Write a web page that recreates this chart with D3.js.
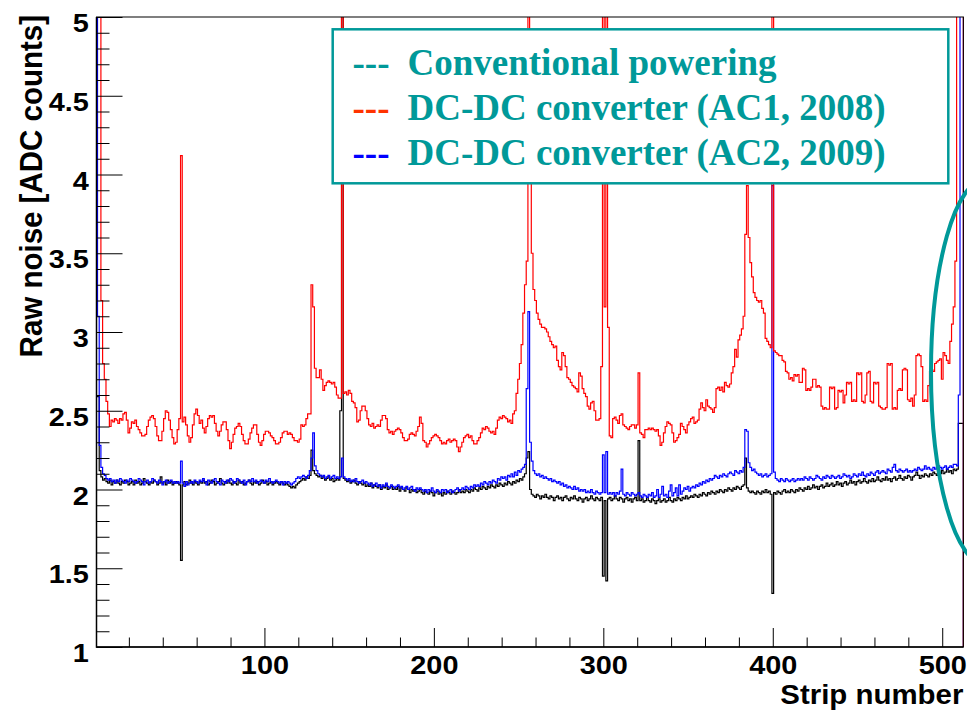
<!DOCTYPE html>
<html>
<head>
<meta charset="utf-8">
<script src="https://cdn.jsdelivr.net/npm/d3@7"></script>
<style>
  html, body { margin: 0; padding: 0; background: #fff; }
  svg { display: block; }
</style>
</head>
<body>
<div id="chart"></div>
<script>
// raw noise per strip (strip 1..512); values above 5 run off the top
const conventional = [
  2.59, 2.59, 2.12, 2.08, 2.06, 2.07, 2.05, 2.04, 2.06, 2.03, 2.05, 2.04, 2.06, 2.04, 2.03, 2.05,
  2.04, 2.06, 2.05, 2.03, 2.04, 2.05, 2.03, 2.06, 2.04, 2.05, 2.03, 2.04, 2.07, 2.05, 2.04, 2.03,
  2.05, 2.04, 2.06, 2.05, 2.03, 2.04, 2.08, 2.04, 2.05, 2.03, 2.06, 2.04, 2.05, 2.03, 2.04, 2.05,
  2.04, 2.03, 1.55, 2.03, 2.05, 2.03, 2.04, 2.06, 2.04, 2.03, 2.05, 2.04, 2.03, 2.05, 2.04, 2.06,
  2.04, 2.05, 2.03, 2.04, 2.06, 2.05, 2.03, 2.04, 2.05, 2.07, 2.04, 2.03, 2.05, 2.04, 2.06, 2.04,
  2.03, 2.05, 2.04, 2.03, 2.06, 2.04, 2.05, 2.03, 2.04, 2.05, 2.06, 2.04, 2.03, 2.05, 2.04, 2.05,
  2.03, 2.04, 2.06, 2.04, 2.05, 2.03, 2.04, 2.05, 2.03, 2.04, 2.05, 2.04, 2.03, 2.05, 2.04, 2.03,
  2.04, 2.03, 2.02, 2.01, 2.02, 2.01, 2.03, 2.04, 2.05, 2.06, 2.07, 2.06, 2.08, 2.07, 2.09, 2.25,
  2.12, 2.10, 2.09, 2.08, 2.09, 2.07, 2.08, 2.06, 2.07, 2.08, 2.06, 2.07, 2.05, 2.06, 2.07, 2.06,
  2.50, 5.60, 2.07, 2.06, 2.05, 2.06, 2.04, 2.05, 2.06, 2.04, 2.03, 2.05, 2.04, 2.03, 2.04, 2.02,
  2.03, 2.02, 2.04, 2.01, 2.03, 2.02, 2.01, 2.03, 2.00, 2.02, 2.01, 2.03, 2.00, 2.01, 2.02, 2.00,
  2.01, 2.00, 2.02, 1.99, 2.01, 2.00, 1.99, 2.01, 2.00, 1.98, 2.00, 1.99, 2.00, 1.98, 1.99, 2.00,
  1.98, 1.97, 1.99, 1.98, 1.97, 1.99, 1.98, 1.96, 1.98, 1.99, 1.97, 1.98, 1.96, 1.98, 1.97, 1.99,
  1.98, 1.97, 1.99, 1.98, 1.97, 1.98, 2.00, 1.98, 1.99, 1.98, 2.00, 1.99, 1.98, 2.00, 1.99, 2.01,
  2.00, 1.99, 2.01, 2.00, 2.02, 2.01, 2.00, 2.02, 2.01, 2.03, 2.02, 2.01, 2.03, 2.02, 2.04, 2.03,
  2.02, 2.04, 2.03, 2.05, 2.04, 2.03, 2.05, 2.04, 2.06, 2.05, 2.07, 2.06, 2.08, 2.10, 2.20, 2.24,
  2.00, 1.97, 1.96, 1.95, 1.97, 1.96, 1.94, 1.96, 1.95, 1.97, 1.95, 1.94, 1.96, 1.95, 1.93, 1.95,
  1.96, 1.94, 1.95, 1.93, 1.95, 1.96, 1.94, 1.93, 1.95, 1.94, 1.96, 1.94, 1.93, 1.95, 1.94, 1.92,
  1.94, 1.95, 1.93, 1.94, 1.96, 1.94, 1.93, 1.95, 1.94, 1.93, 1.95, 1.45, 1.93, 1.42, 1.94, 1.95,
  1.93, 1.94, 1.96, 1.94, 1.93, 1.95, 1.94, 1.92, 1.94, 1.95, 1.93, 1.94, 1.92, 1.94, 1.95, 1.93,
  2.31, 1.93, 1.94, 1.92, 1.93, 1.95, 1.93, 1.92, 1.94, 1.93, 1.91, 1.93, 1.94, 1.92, 1.93, 1.94,
  1.92, 1.93, 1.95, 1.93, 1.92, 1.94, 1.93, 1.95, 1.94, 1.93, 1.95, 1.94, 1.96, 1.94, 1.95, 1.96,
  1.95, 1.97, 1.96, 1.95, 1.97, 1.96, 1.98, 1.97, 1.96, 1.98, 1.97, 1.99, 1.98, 1.97, 1.99, 1.98,
  2.00, 1.99, 1.98, 2.00, 1.99, 2.01, 2.00, 1.99, 2.01, 2.00, 2.02, 2.01, 2.00, 2.02, 2.03, 2.20,
  2.01, 1.99, 1.98, 1.99, 1.98, 1.97, 1.99, 1.98, 1.97, 1.99, 1.98, 2.00, 1.98, 1.99, 1.97, 1.34,
  1.98, 1.97, 1.99, 1.98, 1.97, 1.99, 2.00, 1.98, 1.99, 1.98, 2.00, 1.99, 1.98, 2.00, 1.99, 2.01,
  2.00, 1.99, 2.01, 2.00, 2.02, 2.00, 2.01, 2.03, 2.01, 2.02, 2.00, 2.02, 2.03, 2.01, 2.02, 2.04,
  2.02, 2.03, 2.04, 2.02, 2.03, 2.05, 2.03, 2.04, 2.02, 2.04, 2.05, 2.03, 2.04, 2.06, 2.04, 2.05,
  2.03, 2.05, 2.06, 2.04, 2.05, 2.07, 2.05, 2.04, 2.06, 2.05, 2.07, 2.05, 2.06, 2.08, 2.06, 2.05,
  2.07, 2.06, 2.08, 2.06, 2.07, 2.05, 2.07, 2.08, 2.06, 2.07, 2.09, 2.07, 2.06, 2.08, 2.07, 2.09,
  2.08, 2.06, 2.08, 2.09, 2.11, 2.09, 2.07, 2.09, 2.08, 2.10, 2.09, 2.08, 2.10, 2.09, 2.11, 2.10,
  2.09, 2.11, 2.10, 2.12, 2.10, 2.11, 2.13, 2.11, 2.12, 2.10, 2.13, 2.12, 2.13, 2.42, 2.42, 2.42
]

const ac1_2008 = [
  6.00, 6.00, 6.00, 3.20, 2.80, 2.70, 2.56, 2.48, 2.40, 2.44, 2.43, 2.45, 2.44, 2.42, 2.45, 2.44,
  2.48, 2.49, 2.44, 2.36, 2.39, 2.43, 2.42, 2.44, 2.40, 2.38, 2.36, 2.34, 2.34, 2.35, 2.40, 2.44,
  2.46, 2.47, 2.45, 2.40, 2.34, 2.31, 2.31, 2.37, 2.45, 2.50, 2.49, 2.44, 2.38, 2.33, 2.29, 2.30,
  2.38, 2.45, 4.12, 2.43, 2.46, 2.41, 2.34, 2.30, 2.33, 2.41, 2.48, 2.51, 2.47, 2.42, 2.44, 2.39,
  2.36, 2.40, 2.45, 2.47, 2.46, 2.47, 2.42, 2.37, 2.34, 2.37, 2.41, 2.43, 2.43, 2.38, 2.31, 2.26,
  2.30, 2.35, 2.39, 2.40, 2.42, 2.40, 2.35, 2.31, 2.29, 2.29, 2.32, 2.36, 2.39, 2.41, 2.41, 2.35,
  2.30, 2.28, 2.31, 2.35, 2.37, 2.37, 2.36, 2.34, 2.33, 2.31, 2.29, 2.29, 2.30, 2.33, 2.36, 2.37,
  2.37, 2.35, 2.36, 2.35, 2.33, 2.31, 2.31, 2.30, 2.32, 2.41, 2.40, 2.41, 2.45, 2.48, 2.48, 3.30,
  3.16, 2.77, 2.71, 2.71, 2.76, 2.70, 2.63, 2.66, 2.68, 2.69, 2.68, 2.67, 2.68, 2.65, 2.60, 2.58,
  2.58, 6.00, 2.61, 2.62, 2.60, 2.63, 2.61, 2.56, 2.55, 2.52, 2.43, 2.44, 2.50, 2.53, 2.53, 2.50,
  2.45, 2.41, 2.40, 2.42, 2.39, 2.40, 2.41, 2.40, 2.44, 2.47, 2.47, 2.45, 2.38, 2.36, 2.37, 2.35,
  2.37, 2.38, 2.39, 2.38, 2.36, 2.33, 2.31, 2.31, 2.32, 2.35, 2.36, 2.35, 2.34, 2.37, 2.40, 2.46,
  2.42, 2.31, 2.30, 2.27, 2.29, 2.31, 2.33, 2.34, 2.35, 2.34, 2.33, 2.31, 2.29, 2.30, 2.29, 2.31,
  2.32, 2.30, 2.31, 2.32, 2.31, 2.27, 2.24, 2.27, 2.30, 2.33, 2.34, 2.35, 2.33, 2.34, 2.31, 2.29,
  2.29, 2.31, 2.33, 2.36, 2.39, 2.38, 2.40, 2.39, 2.37, 2.36, 2.37, 2.35, 2.39, 2.44, 2.46, 2.45,
  2.47, 2.46, 2.45, 2.43, 2.44, 2.42, 2.48, 2.50, 2.61, 2.70, 2.80, 2.92, 3.12, 3.30, 3.45, 6.00,
  3.95, 3.50, 3.27, 3.20, 3.12, 3.08, 3.05, 3.03, 3.03, 3.02, 3.00, 2.97, 2.94, 2.92, 2.90, 2.91,
  2.82, 2.78, 2.76, 2.87, 2.85, 2.78, 2.71, 2.70, 2.68, 2.66, 2.65, 2.64, 2.62, 2.74, 2.72, 2.64,
  2.61, 2.59, 2.53, 2.51, 2.55, 2.56, 2.50, 2.44, 2.44, 2.45, 2.78, 6.00, 3.16, 6.00, 3.03, 2.34,
  2.33, 2.45, 2.46, 2.44, 2.42, 2.47, 2.48, 2.41, 2.40, 2.39, 2.38, 2.40, 2.41, 2.41, 2.39, 2.41,
  2.74, 2.36, 2.35, 2.33, 2.38, 2.38, 2.39, 2.38, 2.39, 2.38, 2.37, 2.38, 2.34, 2.28, 2.30, 2.36,
  2.40, 2.43, 2.42, 2.41, 2.36, 2.30, 2.31, 2.33, 2.35, 2.42, 2.40, 2.38, 2.36, 2.41, 2.43, 2.45,
  2.46, 2.42, 2.43, 2.44, 2.51, 2.55, 2.52, 2.50, 2.57, 2.53, 2.52, 2.51, 2.49, 2.52, 2.64, 2.65,
  2.63, 2.65, 2.62, 2.68, 2.66, 2.65, 2.67, 2.74, 2.78, 2.89, 2.84, 2.95, 2.98, 3.02, 3.10, 3.62,
  3.93, 3.60, 3.44, 3.35, 3.25, 3.22, 3.20, 3.19, 3.20, 3.15, 3.12, 2.96, 2.94, 2.92, 2.90, 6.00,
  2.88, 2.87, 2.86, 2.85, 2.85, 2.82, 2.81, 2.75, 2.74, 2.70, 2.71, 2.69, 2.73, 2.72, 2.73, 2.68,
  2.68, 2.77, 2.76, 2.63, 2.64, 2.63, 2.65, 2.70, 2.70, 2.65, 2.66, 2.65, 2.53, 2.51, 2.52, 2.51,
  2.51, 2.65, 2.64, 2.65, 2.51, 2.52, 2.63, 2.62, 2.63, 2.55, 2.60, 2.68, 2.67, 2.68, 2.56, 2.57,
  2.56, 2.74, 2.73, 2.74, 2.56, 2.55, 2.60, 2.74, 2.75, 2.56, 2.55, 2.68, 2.67, 2.68, 2.53, 2.52,
  2.51, 2.51, 2.52, 2.80, 2.79, 2.80, 2.51, 2.52, 2.51, 2.63, 2.64, 2.63, 2.76, 2.77, 2.76, 2.57,
  2.56, 2.58, 2.53, 2.60, 2.85, 2.86, 2.85, 2.78, 2.56, 2.57, 2.56, 2.66, 2.75, 2.76, 2.75, 2.80,
  2.81, 2.82, 2.83, 2.70, 2.87, 2.85, 2.82, 2.80, 2.94, 3.05, 3.16, 3.45, 6.00, 6.00, 6.00, 6.00
]

const ac2_2009 = [
  7.00, 3.10, 2.28, 2.14, 2.10, 2.09, 2.07, 2.06, 2.07, 2.05, 2.06, 2.04, 2.06, 2.05, 2.07, 2.06,
  2.05, 2.04, 2.06, 2.05, 2.07, 2.06, 2.05, 2.04, 2.05, 2.07, 2.06, 2.05, 2.03, 2.05, 2.06, 2.04,
  2.05, 2.07, 2.06, 2.05, 2.04, 2.06, 2.05, 2.03, 2.05, 2.06, 2.04, 2.05, 2.06, 2.04, 2.05, 2.04,
  2.05, 2.04, 2.18, 2.04, 2.02, 2.05, 2.03, 2.04, 2.05, 2.04, 2.06, 2.05, 2.04, 2.06, 2.05, 2.07,
  2.05, 2.03, 2.06, 2.05, 2.04, 2.06, 2.07, 2.05, 2.04, 2.03, 2.06, 2.05, 2.04, 2.06, 2.05, 2.07,
  2.06, 2.04, 2.05, 2.07, 2.06, 2.05, 2.04, 2.06, 2.03, 2.05, 2.06, 2.05, 2.07, 2.05, 2.06, 2.04,
  2.05, 2.06, 2.05, 2.04, 2.06, 2.05, 2.07, 2.05, 2.04, 2.05, 2.06, 2.05, 2.04, 2.05, 2.03, 2.05,
  2.04, 2.05, 2.04, 2.03, 2.04, 2.05, 2.07, 2.08, 2.07, 2.08, 2.09, 2.08, 2.07, 2.09, 2.12, 2.20,
  2.36, 2.15, 2.12, 2.10, 2.09, 2.08, 2.09, 2.07, 2.08, 2.09, 2.07, 2.08, 2.09, 2.07, 2.08, 2.07,
  2.08, 2.20, 2.08, 2.07, 2.06, 2.07, 2.05, 2.06, 2.05, 2.07, 2.05, 2.04, 2.05, 2.06, 2.04, 2.05,
  2.04, 2.03, 2.04, 2.02, 2.03, 2.04, 2.02, 2.03, 2.01, 2.03, 2.02, 2.04, 2.02, 2.01, 2.03, 2.02,
  2.01, 2.02, 2.03, 2.01, 2.02, 2.00, 2.01, 2.02, 2.00, 2.01, 2.02, 2.00, 1.99, 2.01, 2.00, 2.01,
  2.00, 1.99, 2.00, 1.98, 2.00, 1.99, 2.01, 1.99, 1.98, 2.00, 1.99, 1.98, 2.00, 1.99, 2.00, 1.98,
  1.99, 2.00, 1.98, 1.99, 2.00, 2.01, 1.99, 2.00, 2.01, 2.00, 2.02, 2.01, 2.00, 2.02, 2.01, 2.03,
  2.02, 2.03, 2.02, 2.04, 2.03, 2.05, 2.04, 2.03, 2.05, 2.04, 2.06, 2.05, 2.04, 2.07, 2.06, 2.08,
  2.07, 2.08, 2.06, 2.09, 2.08, 2.10, 2.08, 2.11, 2.09, 2.12, 2.11, 2.13, 2.14, 2.16, 2.64, 3.13,
  2.30, 2.18, 2.12, 2.10, 2.09, 2.10, 2.08, 2.09, 2.07, 2.08, 2.07, 2.06, 2.07, 2.05, 2.06, 2.05,
  2.04, 2.05, 2.03, 2.04, 2.02, 2.03, 2.01, 2.02, 2.01, 2.00, 2.02, 2.00, 2.01, 1.99, 2.00, 1.99,
  2.00, 1.98, 1.99, 1.98, 2.00, 1.98, 1.97, 1.99, 1.98, 1.97, 1.98, 2.22, 1.98, 2.24, 1.97, 1.98,
  1.97, 1.98, 1.96, 1.98, 1.97, 1.99, 2.13, 1.97, 1.96, 1.98, 1.97, 1.96, 1.98, 1.97, 1.96, 1.97,
  1.98, 1.96, 1.95, 1.97, 1.96, 1.95, 1.97, 1.96, 1.98, 1.95, 1.96, 2.00, 1.95, 1.97, 2.02, 1.96,
  1.97, 1.95, 1.99, 2.03, 1.96, 1.98, 2.01, 1.96, 2.03, 1.97, 1.99, 2.01, 2.00, 2.02, 1.99, 2.01,
  2.02, 2.01, 2.03, 2.02, 2.04, 2.03, 2.05, 2.04, 2.06, 2.05, 2.07, 2.06, 2.07, 2.09, 2.08, 2.07,
  2.09, 2.08, 2.10, 2.09, 2.08, 2.10, 2.11, 2.10, 2.09, 2.12, 2.11, 2.10, 2.12, 2.11, 2.14, 2.38,
  2.37, 2.17, 2.14, 2.12, 2.13, 2.11, 2.10, 2.09, 2.10, 2.08, 2.09, 2.10, 2.08, 2.09, 2.10, 3.93,
  2.11, 2.07, 2.06, 2.05, 2.07, 2.06, 2.05, 2.07, 2.06, 2.05, 2.06, 2.07, 2.05, 2.06, 2.07, 2.06,
  2.07, 2.06, 2.08, 2.07, 2.06, 2.08, 2.07, 2.06, 2.07, 2.09, 2.08, 2.07, 2.06, 2.08, 2.07, 2.09,
  2.08, 2.07, 2.09, 2.08, 2.07, 2.08, 2.09, 2.07, 2.08, 2.10, 2.09, 2.08, 2.09, 2.07, 2.08, 2.10,
  2.09, 2.08, 2.10, 2.09, 2.11, 2.09, 2.08, 2.10, 2.09, 2.11, 2.10, 2.09, 2.11, 2.12, 2.10, 2.11,
  2.12, 2.11, 2.10, 2.13, 2.12, 2.11, 2.14, 2.16, 2.12, 2.11, 2.13, 2.12, 2.11, 2.12, 2.13, 2.11,
  2.12, 2.11, 2.12, 2.13, 2.12, 2.14, 2.13, 2.12, 2.13, 2.15, 2.13, 2.14, 2.13, 2.12, 2.14, 2.13,
  2.14, 2.15, 2.14, 2.13, 2.14, 2.15, 2.13, 2.14, 2.15, 2.14, 2.16, 2.16, 2.15, 2.60, 6.00, 6.00
]

const xTicks = [100, 200, 300, 400, 500]
const yTicks = [1, 1.5, 2, 2.5, 3, 3.5, 4, 4.5, 5]
const legendLabels = ["Conventional powering", "DC-DC converter (AC1, 2008)", "DC-DC converter (AC2, 2009)"]
const legendDashColors = ["#009999", "#ff3300", "#0000ff"]

let width = 967
let height = 713

// frame of the plot
let pl = 96.5, pr = 963.4, pt = 17, pb = 647
let stretch = 1.09   // the original plot was widened a bit, text too
let teal = "#009999"
let sans = "'Liberation Sans', Arial, Helvetica, sans-serif"
let serif = "'Liberation Serif', 'Times New Roman', serif"

let x = d3.scaleLinear().domain([0.9, 512.5]).range([pl, pr])
let y = d3.scaleLinear().domain([1, 5]).range([pb, pt])

let svg = d3.select("#chart").append("svg")
  .attr("width", width).attr("height", height)
  .attr("viewBox", [0, 0, width, height])

svg.append("rect").attr("width", width).attr("height", height).attr("fill", "#fff")

svg.append("clipPath").attr("id", "plotClip")
  .append("rect")
  .attr("x", pl).attr("y", pt)
  .attr("width", pr - pl + 1).attr("height", pb - pt)

// histogram outline: strip k covers [k-0.5, k+0.5], starts and ends at zero
function steps(values) {
  let pts = [[0.5, 0]]
  values.forEach((v, i) => pts.push([i + 0.5, v]))
  pts.push([values.length + 0.5, values[values.length - 1]])
  pts.push([values.length + 0.5, 0])
  return pts
}

let line = d3.line()
  .x(d => x(d[0]))
  .y(d => y(d[1]))
  .curve(d3.curveStepAfter)

let series = [
  {values: conventional, color: "#000000"},
  {values: ac2_2009, color: "#0000ff"},
  {values: ac1_2008, color: "#ff0000"}
]

svg.append("g")
  .attr("clip-path", "url(#plotClip)")
  .selectAll("path")
  .data(series)
  .join("path")
  .attr("fill", "none")
  .attr("stroke", d => d.color)
  .attr("stroke-width", 1.2)
  .attr("d", d => line(steps(d.values)))

// minor ticks
let yMinor = d3.range(11, 50).filter(v => v % 5 != 0).map(v => v / 10)
let xMinor = d3.range(20, 512, 20).filter(v => v % 100 != 0)

let gyMinor = svg.append("g").attr("transform", `translate(${pl},0)`)
  .call(d3.axisLeft(y).tickValues(yMinor).tickSizeInner(-13).tickSizeOuter(0).tickFormat(""))
let gxMinor = svg.append("g").attr("transform", `translate(0,${pb})`)
  .call(d3.axisBottom(x).tickValues(xMinor).tickSizeInner(-9.5).tickSizeOuter(0).tickFormat(""))

// major ticks + labels
let gy = svg.append("g").attr("transform", `translate(${pl},0)`)
  .call(d3.axisLeft(y).tickValues(yTicks).tickSizeInner(-26).tickSizeOuter(0).tickPadding(7).tickFormat(d3.format("~g")))
let gx = svg.append("g").attr("transform", `translate(0,${pb})`)
  .call(d3.axisBottom(x).tickValues(xTicks).tickSizeInner(-19).tickSizeOuter(0).tickPadding(8))

for (let g of [gyMinor, gxMinor, gy, gx]) {
  g.select(".domain").remove()
  g.selectAll(".tick line").attr("stroke", "#000").attr("stroke-width", 1)
  g.attr("font-family", sans).attr("font-size", 26.5).attr("font-weight", "bold")
}
gy.selectAll("text").attr("fill", "#000").attr("dy", "0.55em")
  .attr("transform", `scale(${stretch},1)`)
gx.selectAll("text").attr("fill", "#000")
  .attr("transform", `scale(${stretch},1)`)

// frame
svg.append("rect")
  .attr("x", pl).attr("y", pt)
  .attr("width", pr - pl).attr("height", pb - pt)
  .attr("fill", "none").attr("stroke", "#000").attr("stroke-width", 1)
svg.append("path")
  .attr("d", `M${pl},${pt}V${pb}H${pr}`)
  .attr("fill", "none").attr("stroke", "#000").attr("stroke-width", 1.5)

// axis titles
svg.append("text")
  .attr("transform", `translate(${pr},704) scale(${stretch},1)`)
  .attr("text-anchor", "end")
  .attr("font-family", sans).attr("font-weight", "bold").attr("font-size", 27)
  .text("Strip number")

svg.append("text")
  .attr("transform", `translate(41.5,15) scale(${stretch},1) rotate(-90)`)
  .attr("text-anchor", "end")
  .attr("font-family", sans).attr("font-weight", "bold").attr("font-size", 29.5)
  .text("Raw noise [ADC counts]")

// legend
let legend = svg.append("g")
legend.append("rect")
  .attr("x", 332.7).attr("y", 29.3)
  .attr("width", 615.6).attr("height", 154)
  .attr("fill", "#fff").attr("stroke", teal).attr("stroke-width", 2.5)

legendLabels.forEach((label, i) => {
  let base = 75 + i * 45
  legend.append("text")
    .attr("x", 352.5).attr("y", base)
    .attr("font-family", serif).attr("font-weight", "bold").attr("font-size", 37)
    .attr("fill", legendDashColors[i])
    .text("---")
  legend.append("text")
    .attr("x", 407.5).attr("y", base)
    .attr("font-family", serif).attr("font-weight", "bold").attr("font-size", 37)
    .attr("fill", teal)
    .text(label)
})

// hand-drawn highlight round the last strips
svg.append("ellipse")
  .attr("cx", 985).attr("cy", 372)
  .attr("rx", 54).attr("ry", 192)
  .attr("fill", "none").attr("stroke", teal).attr("stroke-width", 4)
</script>
</body>
</html>
